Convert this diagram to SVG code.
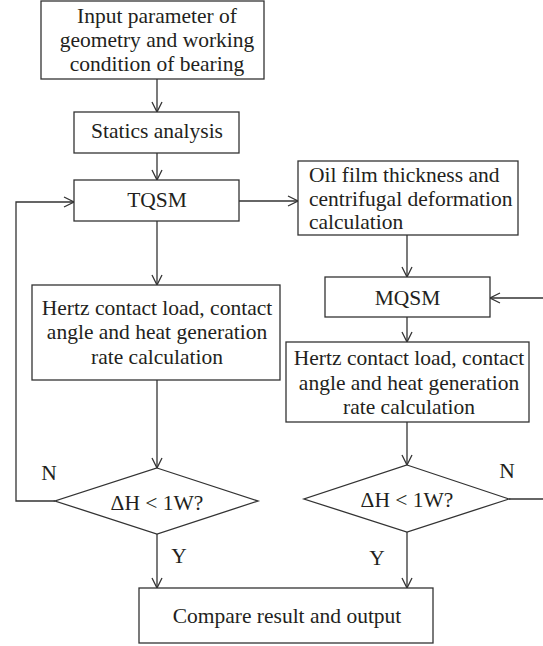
<svg xmlns="http://www.w3.org/2000/svg" width="543" height="646" viewBox="0 0 543 646">
<style>
.box{fill:#fff;stroke:#333;stroke-width:1.3}
.t{font-family:"Liberation Serif","Times New Roman",serif;font-size:21.5px;fill:#231f20;text-anchor:middle}
.l{text-anchor:start}
.c{fill:none;stroke:#333;stroke-width:1.3}
</style>
<defs>
<marker id="ah" markerWidth="12" markerHeight="12" viewBox="0 0 12 12" refX="11" refY="6" orient="auto" markerUnits="userSpaceOnUse">
<path d="M1,1 L11,6 L1,11" fill="none" stroke="#333" stroke-width="1.3"/>
</marker>
</defs>
<rect width="543" height="646" fill="#fff"/>
<g id="connectors">
<line class="c" x1="157" y1="79" x2="157" y2="112" marker-end="url(#ah)"/>
<line class="c" x1="157" y1="153" x2="157" y2="180" marker-end="url(#ah)"/>
<line class="c" x1="157" y1="221" x2="157" y2="285" marker-end="url(#ah)"/>
<line class="c" x1="239" y1="201" x2="298" y2="201" marker-end="url(#ah)"/>
<line class="c" x1="157" y1="380" x2="157" y2="468" marker-end="url(#ah)"/>
<polyline class="c" points="55,501 16,501 16,202 74,202" marker-end="url(#ah)"/>
<line class="c" x1="157" y1="534" x2="157" y2="588" marker-end="url(#ah)"/>
<line class="c" x1="407" y1="235" x2="407" y2="277" marker-end="url(#ah)"/>
<line class="c" x1="543" y1="298" x2="490" y2="298" marker-end="url(#ah)"/>
<line class="c" x1="407" y1="317" x2="407" y2="342" marker-end="url(#ah)"/>
<line class="c" x1="407" y1="422" x2="407" y2="465" marker-end="url(#ah)"/>
<line class="c" x1="509" y1="499" x2="543" y2="499"/>
<line class="c" x1="407" y1="532" x2="407" y2="588" marker-end="url(#ah)"/>
<text class="t" x="49" y="480">N</text>
<text class="t" x="179" y="563">Y</text>
<text class="t" x="507" y="478">N</text>
<text class="t" x="377" y="565">Y</text>
</g>
<g id="input">
<rect class="box" x="41" y="1" width="223" height="78"/>
<text class="t" x="157" y="22.5">Input parameter of</text>
<text class="t" x="157" y="46.5">geometry and working</text>
<text class="t" x="157" y="70.5">condition of bearing</text>
</g>
<g id="statics">
<rect class="box" x="74" y="112" width="165" height="41"/>
<text class="t" x="157" y="138">Statics analysis</text>
</g>
<g id="tqsm">
<rect class="box" x="74" y="180" width="165" height="41"/>
<text class="t" x="157" y="207">TQSM</text>
</g>
<g id="hertz1">
<rect class="box" x="32" y="285" width="248" height="95"/>
<text class="t" x="157" y="314.5">Hertz contact load, contact</text>
<text class="t" x="157" y="339">angle and heat generation</text>
<text class="t" x="157" y="363.5">rate calculation</text>
</g>
<g id="diamond1">
<polygon class="box" points="157,468 258,501 157,534 55,501"/>
<text class="t" x="157" y="510">ΔH &lt; 1W?</text>
</g>
<g id="oilfilm">
<rect class="box" x="298" y="161" width="220" height="74"/>
<text class="t l" x="309" y="182">Oil film thickness and</text>
<text class="t l" x="309" y="205.5">centrifugal deformation</text>
<text class="t l" x="309" y="229">calculation</text>
</g>
<g id="mqsm">
<rect class="box" x="325" y="277" width="165" height="40"/>
<text class="t" x="407.5" y="305">MQSM</text>
</g>
<g id="hertz2">
<rect class="box" x="286" y="342" width="243" height="80"/>
<text class="t" x="409" y="365">Hertz contact load, contact</text>
<text class="t" x="409" y="389.5">angle and heat generation</text>
<text class="t" x="409" y="414">rate calculation</text>
</g>
<g id="diamond2">
<polygon class="box" points="407,465 509,499 407,532 304,499"/>
<text class="t" x="407" y="507">ΔH &lt; 1W?</text>
</g>
<g id="compare">
<rect class="box" x="139" y="588" width="294" height="55"/>
<text class="t" x="287" y="623">Compare result and output</text>
</g>
</svg>
